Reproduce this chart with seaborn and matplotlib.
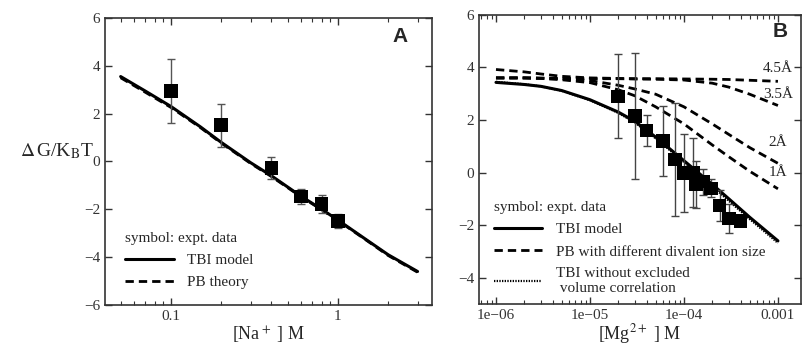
import seaborn as sns
import matplotlib.pyplot as plt
from matplotlib.ticker import LogLocator, FixedLocator, FixedFormatter, NullFormatter

# %% data - panel A (Na+)
na_conc = [0.1, 0.2, 0.4, 0.6, 0.8, 1.0]
na_dg = [2.95, 1.52, -0.28, -1.47, -1.78, -2.5]
na_err = [1.35, 0.9, 0.45, 0.3, 0.37, 0.3]

na_line_x = [0.05, 0.07, 0.1, 0.15, 0.2, 0.3, 0.4, 0.6, 0.8, 1.0, 1.5, 2.0, 3.0]
na_tbi = [3.55, 2.95, 2.3, 1.45, 0.8, -0.05, -0.6, -1.45, -2.0, -2.45, -3.3, -3.9, -4.6]
na_pb = [3.5, 2.9, 2.26, 1.42, 0.77, -0.08, -0.63, -1.47, -2.02, -2.47, -3.32, -3.93, -4.63]

# %% data - panel B (Mg2+)
mg_conc = [2.0e-5, 3.0e-5, 4.0e-5, 6.0e-5, 8.0e-5, 1.0e-4, 1.25e-4, 1.35e-4, 1.6e-4, 1.95e-4, 2.4e-4, 3.0e-4, 4.0e-4]
mg_dg = [2.9, 2.15, 1.6, 1.2, 0.5, -0.02, 0.0, -0.45, -0.35, -0.6, -1.25, -1.75, -1.85]
mg_err = [1.6, 2.4, 0.6, 1.35, 2.15, 1.5, 1.3, 0.9, 0.5, 0.35, 0.6, 0.55, 0.2]

mg_line_x = [1e-6, 2e-6, 3e-6, 5e-6, 1e-5, 2e-5, 3e-5, 5e-5, 1e-4, 2e-4, 3e-4, 5e-4, 1e-3]
mg_tbi = [3.43, 3.35, 3.28, 3.12, 2.77, 2.3, 1.95, 1.35, 0.45, -0.45, -1.0, -1.7, -2.6]
mg_tbi_novol = [3.45, 3.36, 3.28, 3.11, 2.75, 2.27, 1.9, 1.3, 0.4, -0.52, -1.08, -1.77, -2.68]
mg_pb = {
    '4.5Å': [3.92, 3.83, 3.75, 3.66, 3.6, 3.58, 3.57, 3.57, 3.56, 3.55, 3.54, 3.51, 3.47],
    '3.5Å': [3.6, 3.6, 3.59, 3.58, 3.57, 3.57, 3.56, 3.55, 3.52, 3.4, 3.25, 2.98, 2.55],
    '2Å': [3.6, 3.6, 3.59, 3.57, 3.5, 3.32, 3.18, 2.98, 2.5, 1.85, 1.45, 0.95, 0.35],
    '1Å': [3.6, 3.6, 3.58, 3.53, 3.42, 3.15, 2.92, 2.5, 1.85, 1.05, 0.6, 0.05, -0.62],
}
pb_label_y = {'4.5Å': 3.95, '3.5Å': 2.98, '2Å': 1.13, '1Å': 0.0}

mg_ticks = [1e-6, 1e-5, 1e-4, 1e-3]
mg_ticklabels = ['1e\u221206', '1e\u221205', '1e\u221204', '0.001']

# %% style
sns.set_style('ticks')
plt.rcParams['font.family'] = ['Liberation Serif', 'DejaVu Serif']
plt.rcParams['mathtext.fontset'] = 'stix'
plt.rcParams['font.size'] = 11

grey = '#333333'
dash = (0, (3, 1.8))
leg_kw = dict(loc='upper left', frameon=False, title='symbol: expt. data', alignment='left',
              fontsize=11, title_fontsize=11, handlelength=3.2, handletextpad=0.9,
              labelspacing=0.55, borderpad=0, borderaxespad=0)

fig = plt.figure(figsize=(8.04, 3.45), dpi=100)
axA = fig.add_axes([0.1306, 0.116, 0.4067, 0.832])
axB = fig.add_axes([0.5958, 0.119, 0.4005, 0.838])

# %% panel A
sns.lineplot(x=na_line_x, y=na_tbi, ax=axA, color='k', lw=2.2, label='TBI model', errorbar=None)
sns.lineplot(x=na_line_x, y=na_pb, ax=axA, color='k', lw=2, linestyle=dash, label='PB theory', errorbar=None)
axA.errorbar(na_conc, na_dg, yerr=na_err, fmt='none', ecolor='#555555', elinewidth=1, capsize=3, zorder=3)
sns.scatterplot(x=na_conc, y=na_dg, ax=axA, marker='s', s=95, color='k', edgecolor='none', zorder=4)

axA.set_xscale('log')
axA.set_xlim(0.0403, 3.66)
axA.set_ylim(-6, 6)
axA.set_yticks([-6, -4, -2, 0, 2, 4, 6])
axA.set_xticks([0.1, 1])
axA.set_xticklabels(['0.1', '1'])
axA.xaxis.set_minor_locator(LogLocator(base=10, subs=range(2, 10)))
axA.xaxis.set_minor_formatter(NullFormatter())
axA.set_xlabel('[Na$^+$ ] M', fontsize=13, va='center')
axA.xaxis.set_label_coords(0.5, -0.105)
axA.set_ylabel(r'$\Delta\,$G/K$_{\rm B}$T', fontsize=14, rotation=0, ha='right', va='center')
axA.yaxis.set_label_coords(-0.035, 0.535)
axA.text(0.902, 0.934, 'A', transform=axA.transAxes, ha='center', va='center',
         fontsize=15, fontweight='bold', family='Liberation Sans')
axA.legend(bbox_to_anchor=(0.06, 0.255), **leg_kw)

# %% panel B
sns.lineplot(x=mg_line_x, y=mg_tbi, ax=axB, color='k', lw=2.2, label='TBI model', errorbar=None)
first = True
for name, vals in mg_pb.items():
    sns.lineplot(x=mg_line_x, y=vals, ax=axB, color='k', lw=2, linestyle=dash, errorbar=None,
                 label='PB with different divalent ion size' if first else '_nolegend_')
    first = False
    axB.text(1e-3, pb_label_y[name], name, ha='center', va='center', fontsize=11)
sns.lineplot(x=mg_line_x, y=mg_tbi_novol, ax=axB, color='k', lw=1.6, linestyle=(0, (0.6, 0.6)),
             label='TBI without excluded\n volume correlation', errorbar=None)
axB.errorbar(mg_conc, mg_dg, yerr=mg_err, fmt='none', ecolor='#444444', elinewidth=1, capsize=3, zorder=3)
sns.scatterplot(x=mg_conc, y=mg_dg, ax=axB, marker='s', s=95, color='k', edgecolor='none', zorder=4)

axB.set_xscale('log')
axB.set_xlim(6.6e-7, 1.76e-3)
axB.set_ylim(-5, 6)
axB.set_yticks([-4, -2, 0, 2, 4, 6])
axB.xaxis.set_major_locator(FixedLocator(mg_ticks))
axB.xaxis.set_major_formatter(FixedFormatter(mg_ticklabels))
axB.xaxis.set_minor_locator(LogLocator(base=10, subs=range(2, 10)))
axB.xaxis.set_minor_formatter(NullFormatter())
axB.set_xlabel('[Mg$^{2+}$ ] M', fontsize=13, va='center')
axB.xaxis.set_label_coords(0.5, -0.103)
axB.set_ylabel('')
axB.text(0.935, 0.941, 'B', transform=axB.transAxes, ha='center', va='center',
         fontsize=15, fontweight='bold', family='Liberation Sans')
leg = axB.legend(bbox_to_anchor=(0.045, 0.355), **leg_kw)

# %% axes cosmetics
for ax in (axA, axB):
    ax.tick_params(which='both', direction='in', top=True, right=True, colors=grey, labelcolor=grey)
    ax.tick_params(which='major', length=5, width=1)
    ax.tick_params(which='minor', length=3, width=0.8)
    for sp in ax.spines.values():
        sp.set_color(grey)
        sp.set_linewidth(1.2)

fig.savefig('out.png', dpi=100)
